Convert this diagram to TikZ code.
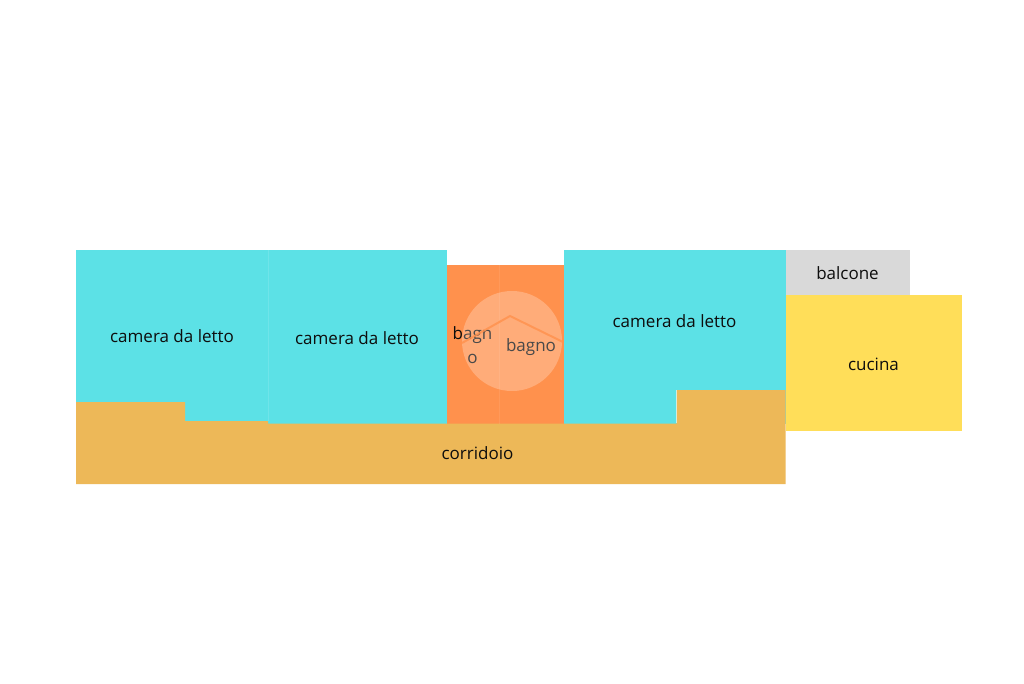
\documentclass[tikz,border=0pt]{standalone}
\usepackage{fontspec}
\setmainfont{Open Sans}
\definecolor{roomcyan}{HTML}{5CE1E6}
\definecolor{bathorange}{HTML}{FF914D}
\definecolor{halltan}{HTML}{EDB858}
\definecolor{kitchenyellow}{HTML}{FFDE59}
\definecolor{balconygray}{HTML}{D9D9D9}
\tikzset{
  roomlabel/.style={font=\fontsize{17}{24}\selectfont,text=black!95},
}
\begin{document}
\begin{tikzpicture}[x=1pt,y=-1pt]
                    \useasboundingbox (0,0) rectangle (1024,683);
                    \fill[white] (0,0) rectangle (1024,683);
                    % rooms
                    \fill[roomcyan] (76,250) rectangle (447,424);
                    \fill[roomcyan] (564,250) rectangle (785.5,424);
                    \fill[bathorange] (447,265) rectangle (564,423.5);
                    \fill[balconygray] (785.5,250) rectangle (909.5,295);
                    \fill[kitchenyellow] (785.5,295) rectangle (961.5,431);
                    \fill[halltan] (76,402) -- (185,402) -- (185,421) -- (268,421) -- (268,423.5) -- (676.5,423.5) -- (676.5,390) -- (785.5,390) -- (785.5,484) -- (76,484) -- cycle;
                    % seams
                    \draw[white,opacity=0.12,line width=0.5pt] (268,250) -- (268,421);
                    \draw[white,opacity=0.08,line width=0.5pt] (499,265) -- (499,424);
                    \draw[white,opacity=0.6,line width=0.6pt] (676.5,390) -- (676.5,423);
                    % overlay
                    \draw[bathorange,line width=2.5pt] (462,343) -- (510,316) -- (563,342);
                    \node[roomlabel,align=center,text width=44pt] (bagnoa) at (472.5,345) {bagn\\o};
                    \node[roomlabel] (bagnob) at (531,347) {bagno};
                    \fill[white,opacity=0.25] (512,341) circle (50);
                    \draw[bathorange,opacity=0.8,line width=2pt] (462,343) -- (510,316) -- (563,342);
                    \node[roomlabel] (cameraa) at (172,336) {camera da letto};
                    \node[roomlabel] (camerab) at (357,338) {camera da letto};
                    \node[roomlabel] (camerac) at (674.5,321) {camera da letto};
                    \node[roomlabel] (corridoio) at (477.5,453) {corridoio};
                    \node[roomlabel] (balcone) at (847.5,273) {balcone};
                    \node[roomlabel] (cucina) at (873.5,364) {cucina};
                \end{tikzpicture}
\end{document}
